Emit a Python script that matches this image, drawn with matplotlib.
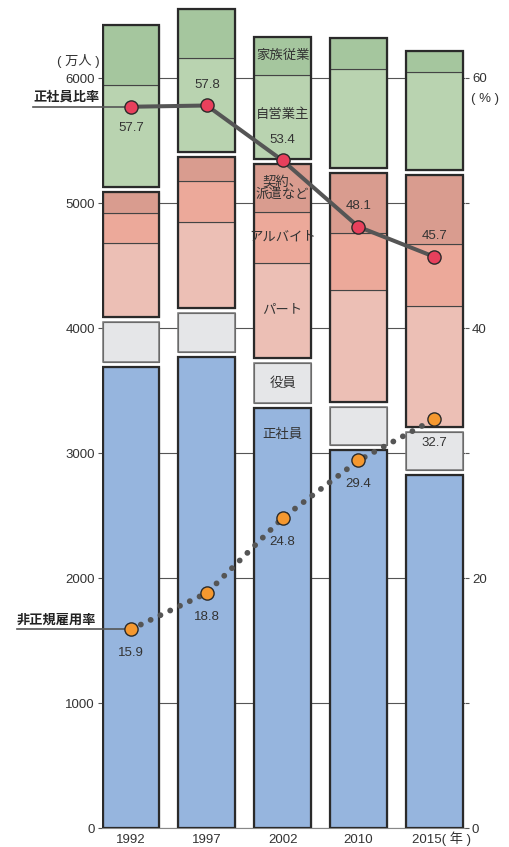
import numpy as np
import matplotlib
matplotlib.use('Agg')
import matplotlib.pyplot as plt
import matplotlib.transforms as mtransforms

plt.rcParams['font.family'] = ['Liberation Sans', 'Noto Sans CJK JP']

years = ['1992', '1997', '2002', '2010', '2015']

# 万人
seishain = [3688, 3765, 3357, 3024, 2824]    # 正社員
yakuin = [324, 317, 320, 307, 306]           # 役員
part = [585, 686, 765, 890, 966]             # パート
arbeit = [242, 328, 405, 459, 493]           # アルバイト
keiyaku = [173, 194, 387, 483, 552]          # 契約、派遣など
jiei = [816, 750, 667, 792, 784]             # 自営業主
kazoku = [474, 394, 309, 248, 171]           # 家族従業

# %
seishain_rate = [57.7, 57.8, 53.4, 48.1, 45.7]
hiseiki_rate = [15.9, 18.8, 24.8, 29.4, 32.7]

gap = 40  # visual gap between groups [万人]

c_blue = '#96b5de'
c_gray = '#e5e6e8'
c_part = '#ecbfb5'
c_arb = '#eca99a'
c_kei = '#d99c8f'
c_jiei = '#b9d3b0'
c_kaz = '#a5c69e'
c_edge = '#2a2a2a'
c_div = '#444444'
c_txt = '#333333'

W, H, dpi = 509, 847, 100
fig = plt.figure(figsize=(W / dpi, H / dpi), dpi=dpi)
ax = fig.add_axes([102 / W, 19 / H, 363 / W, 828 / H])
ax2 = ax.twinx()

x = np.arange(len(years))
bw = 0.75

ax.set_xlim(-0.383, 4.406)
ax.set_ylim(0, 6624)
ax2.set_ylim(0, 66.24)

ax.set_axisbelow(True)
ax.yaxis.grid(True, color='#555555', lw=0.8)
for s in ['left', 'right', 'top']:
    ax.spines[s].set_visible(False)
    ax2.spines[s].set_visible(False)
ax.spines['bottom'].set_color('#888888')
ax2.spines['bottom'].set_visible(False)


def group(bottom, parts, colors, edge, elw):
    b = np.array(bottom, dtype=float)
    for vals, col in zip(parts, colors):
        ax.bar(x, vals, bw, bottom=b, color=col, edgecolor=c_div, lw=0.8, zorder=2)
        b = b + np.array(vals)
    total = b - np.array(bottom)
    ax.bar(x, total, bw, bottom=bottom, fill=False, edgecolor=edge, lw=elw, zorder=3)
    return b


top_blue = group(np.zeros(5), [seishain], [c_blue], c_edge, 1.6)
top_gray = group(top_blue + gap, [yakuin], [c_gray], '#777777', 1.1)
top_red = group(top_gray + gap, [part, arbeit, keiyaku], [c_part, c_arb, c_kei], c_edge, 1.6)
top_green = group(top_red + gap, [jiei, kazoku], [c_jiei, c_kaz], c_edge, 1.6)

# ticks
ax.set_yticks(range(0, 6001, 1000))
ax.tick_params(axis='y', length=3, width=0.8, color='#555555', pad=2, labelsize=9.5, labelcolor=c_txt)
ax2.set_yticks(range(0, 61, 10))
ax2.set_yticklabels(['0', '', '20', '', '40', '', '60'])
ax2.tick_params(axis='y', length=3, width=0.8, color='#555555', pad=2, labelsize=9.5, labelcolor=c_txt)
ax.set_xticks(x)
ax.set_xticklabels(years[:-1] + [years[-1] + '( 年 )'])
ax.tick_params(axis='x', length=0, pad=4.5, labelsize=9.5, labelcolor=c_txt)
lab = ax.get_xticklabels()[-1]
lab.set_transform(lab.get_transform() + mtransforms.ScaledTranslation(7 / dpi, 3 / dpi, fig.dpi_scale_trans))

ax.annotate('( 万人 )', xy=(0, 6000), xycoords=('axes fraction', 'data'), xytext=(-2, 12),
            textcoords='offset points', ha='right', va='center', fontsize=9.5, color=c_txt)
ax2.annotate('( % )', xy=(1, 60), xycoords=('axes fraction', 'data'), xytext=(4, -15),
             textcoords='offset points', ha='left', va='center', fontsize=9.5, color=c_txt)

# labels in 2002 bar
i = 2
b_red = top_gray[i] + gap
b_green = top_red[i] + gap
seg_labels = [
    ('家族従業', b_green + jiei[i] + kazoku[i] / 2),
    ('自営業主', b_green + jiei[i] / 2 + 20),
    ('契約、\n派遣など', b_red + part[i] + arbeit[i] + keiyaku[i] / 2),
    ('アルバイト', b_red + part[i] + arbeit[i] / 2),
    ('パート', b_red + part[i] / 2),
    ('役員', top_blue[i] + gap + yakuin[i] / 2),
]
for t, yv in seg_labels:
    ax.text(x[i], yv, t, ha='center', va='center', fontsize=9.6, color=c_txt,
            linespacing=1.0, zorder=5)
ax.annotate('正社員', xy=(x[i], seishain[i]), xytext=(0, -19), textcoords='offset points',
            ha='center', va='center', fontsize=9.6, color=c_txt, zorder=5)

# rate lines
ax2.plot(x, hiseiki_rate, color='#555555', lw=4.2, linestyle=(0, (0.01, 1.85)),
         dash_capstyle='round', zorder=3)
ax2.plot(x, hiseiki_rate, 'o', ms=9.5, mfc='#f5982f', mec='#2a2a2a', mew=1.0, zorder=4)
ax2.plot(x, seishain_rate, color='#555555', lw=2.9, zorder=3)
ax2.plot(x, seishain_rate, 'o', ms=9.5, mfc='#e8405c', mec='#2a2a2a', mew=1.0, zorder=4)

up = [-1, 1, 1, 1, 1]
for xi, v, d in zip(x, seishain_rate, up):
    ax2.annotate(f'{v:.1f}', xy=(xi, v), xytext=(0, 15 * d), textcoords='offset points',
                 ha='center', va='center', fontsize=9.5, color=c_txt, zorder=5)
for xi, v in zip(x, hiseiki_rate):
    ax2.annotate(f'{v:.1f}', xy=(xi, v), xytext=(0, -17), textcoords='offset points',
                 ha='center', va='center', fontsize=9.5, color=c_txt, zorder=5)

# side labels with leader lines
x0, x1 = ax.get_xlim()
for name, v, frac in [('正社員比率', seishain_rate[0], 0.19), ('非正規雇用率', hiseiki_rate[0], 0.234)]:
    xs = x0 - frac * (x1 - x0)
    ax2.plot([xs, x[0]], [v, v], color='#555555', lw=1.2, clip_on=False, zorder=2.5)
    ax2.annotate(name, xy=(xs, v), xytext=(0, 2), textcoords='offset points', ha='left',
                 va='bottom', fontsize=9.5, fontweight='bold', color='#222222',
                 annotation_clip=False)

fig.savefig('out.png', dpi=dpi)
